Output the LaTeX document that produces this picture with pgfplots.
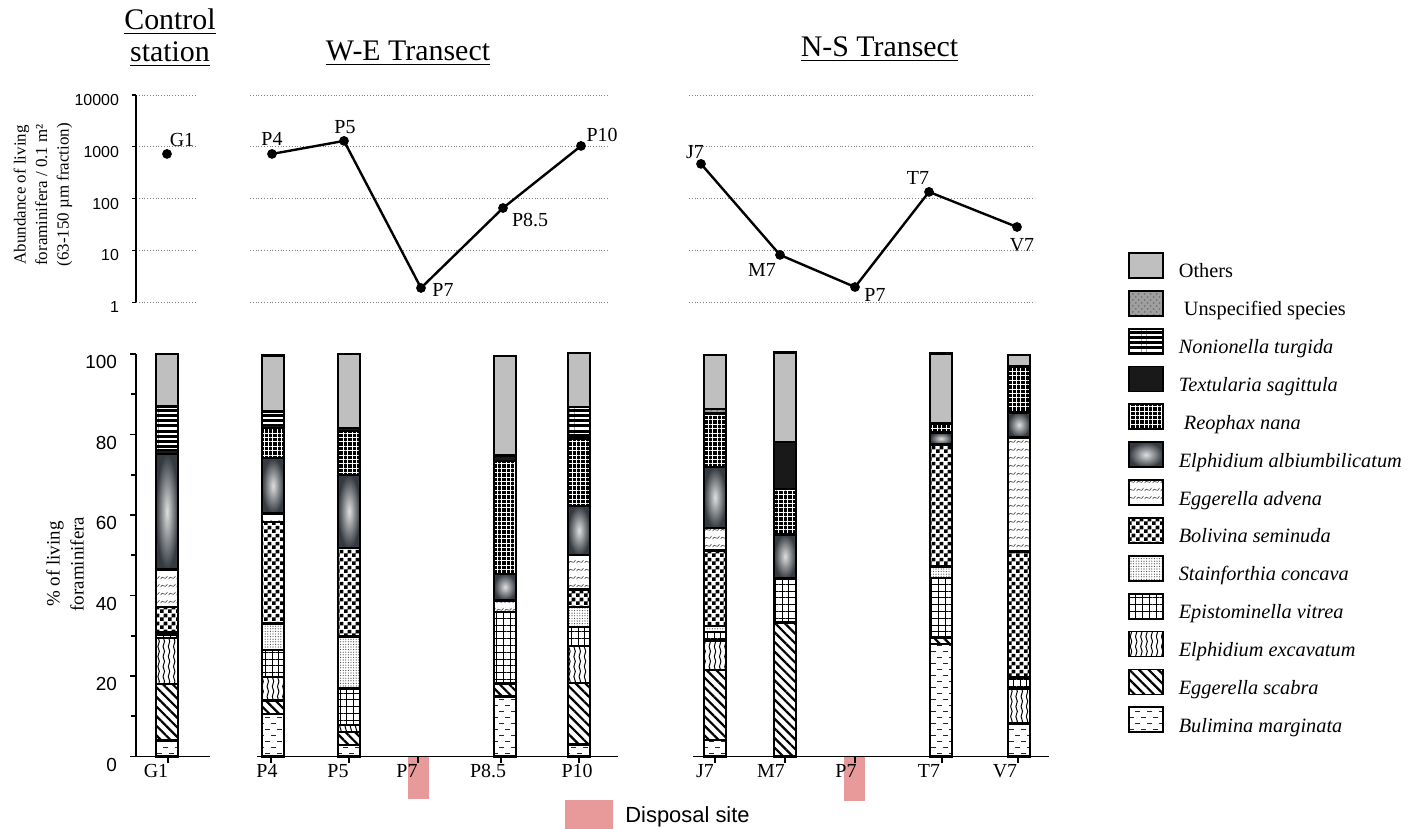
\documentclass[border=0pt]{standalone}
\usepackage{fontspec}
\setmainfont{Liberation Serif}
\newfontfamily\arial{Liberation Sans}
\usepackage{pgfplots}
\pgfplotsset{compat=1.18}
\usepackage{pgfplotstable}
\usetikzlibrary{patterns,patterns.meta}
\definecolor{pinkc}{RGB}{232,153,154}
\definecolor{albdark}{RGB}{52,58,64}

\pgfdeclarepatternformonly{smallcheck}{\pgfpointorigin}{\pgfpoint{4bp}{4bp}}{\pgfpoint{4bp}{4bp}}{%
  \pgfpathrectangle{\pgfpointorigin}{\pgfpoint{2bp}{2bp}}%
  \pgfpathrectangle{\pgfpoint{2bp}{2bp}}{\pgfpoint{2bp}{2bp}}%
  \pgfusepath{fill}}
\pgfdeclarepatternformonly{bulpat}{\pgfpoint{-0.5bp}{-0.5bp}}{\pgfpoint{6.5bp}{6.5bp}}{\pgfpoint{6bp}{6bp}}{%
  \pgfsetlinewidth{0.5bp}%
  \pgfpathmoveto{\pgfpoint{0.5bp}{1.5bp}}\pgfpathlineto{\pgfpoint{3bp}{1.5bp}}%
  \pgfpathmoveto{\pgfpoint{3.5bp}{4.5bp}}\pgfpathlineto{\pgfpoint{6bp}{4.5bp}}%
  \pgfusepath{stroke}}
\pgfdeclarepatternformonly{wavy}{\pgfpoint{-0.5bp}{0bp}}{\pgfpoint{3bp}{5bp}}{\pgfpoint{2.6bp}{5bp}}{%
  \pgfsetlinewidth{0.5bp}%
  \pgfpathmoveto{\pgfpoint{1.3bp}{0bp}}%
  \pgfpathcurveto{\pgfpoint{0bp}{1.5bp}}{\pgfpoint{2.6bp}{3.5bp}}{\pgfpoint{1.3bp}{5bp}}%
  \pgfusepath{stroke}}
\pgfdeclarepatternformonly{scribble}{\pgfpoint{-0.5bp}{-0.5bp}}{\pgfpoint{4.5bp}{4.5bp}}{\pgfpoint{4bp}{4bp}}{%
  \pgfsetlinewidth{0.35bp}%
  \pgfpathmoveto{\pgfpoint{0.3bp}{1bp}}%
  \pgfpathcurveto{\pgfpoint{1.2bp}{3.5bp}}{\pgfpoint{2.5bp}{-0.5bp}}{\pgfpoint{3.7bp}{2.5bp}}%
  \pgfusepath{stroke}}

\tikzset{
  sBul/.style={preaction={fill=white}, pattern=bulpat, pattern color=black!85},
  sEsc/.style={preaction={fill=white}, pattern={Lines[angle=-45,distance=3.4bp,line width=1.1bp]}, pattern color=black},
  sEexc/.style={preaction={fill=white}, pattern=wavy, pattern color=black},
  sEpi/.style={preaction={fill=white}, pattern={Hatch[angle=0,distance=3.4bp,line width=0.4bp]}, pattern color=black},
  sSta/.style={preaction={fill=white}, pattern={Dots[distance=1.3bp,radius=0.28bp]}, pattern color=black!75},
  sBol/.style={preaction={fill=white}, pattern=smallcheck, pattern color=black},
  sEadv/.style={preaction={fill=white}, pattern=scribble, pattern color=black!65},
  sEalb/.style={inner color=gray!25, outer color=albdark},
  sReo/.style={preaction={fill=black}, pattern={Hatch[angle=0,distance=2.2bp,line width=0.45bp]}, pattern color=white},
  sTex/.style={fill=black!90},
  sNon/.style={preaction={fill=black}, pattern={Lines[angle=0,distance=2.6bp,line width=1.1bp]}, pattern color=white},
  sUns/.style={preaction={fill=gray!75}, pattern=crosshatch dots, pattern color=black!55},
  sOth/.style={fill=gray!50},
}

% percentage composition of each station (stacked from bottom)
\pgfplotstableread{
x bul esc eexc epi sta bol eadv ealb reo tex non uns oth
167 4.0 14.0 11.5 0.8 0.7 6.2 9.3 28.6 0 1.0 10.9 0 13.0
}\tblG
\pgfplotstableread{
x bul esc eexc epi sta bol eadv ealb reo tex non uns oth
273 10.6 3.3 5.8 6.8 6.5 25.3 2.1 13.7 7.5 0.8 3.3 0 13.9
}\tblPfour
\pgfplotstableread{
x bul esc eexc epi sta bol eadv ealb reo tex non uns oth
349 2.9 3.2 1.7 9.1 12.9 22.0 0 18.2 10.8 0.8 0 0 18.4
}\tblPfive
\pgfplotstableread{
x bul esc eexc epi sta bol eadv ealb reo tex non uns oth
505 14.9 3.2 0 17.8 0 0 2.9 6.6 28.0 1.4 0 0 24.7
}\tblPeight
\pgfplotstableread{
x bul esc eexc epi sta bol eadv ealb reo tex non uns oth
579 3.0 15.3 9.1 4.8 5.0 4.3 8.5 12.3 16.7 0.8 7.1 0 13.4
}\tblPten
\pgfplotstableread{
x bul esc eexc epi sta bol eadv ealb reo tex non uns oth
715 4.1 17.4 7.3 2.1 1.5 18.8 5.6 15.1 13.3 0 0 1.1 13.5
}\tblJ
\pgfplotstableread{
x bul esc eexc epi sta bol eadv ealb reo tex non uns oth
785 0 33.3 0 10.9 0 0 0 11.0 11.2 11.8 0 0 22.2
}\tblM
\pgfplotstableread{
x bul esc eexc epi sta bol eadv ealb reo tex non uns oth
941 27.9 1.7 0 14.7 2.9 30.3 0 3.0 2.2 0 0 0 17.4
}\tblT
\pgfplotstableread{
x bul esc eexc epi sta bol eadv ealb reo tex non uns oth
1019 8.2 0 8.7 2.7 0 31.3 28.4 6.2 11.4 0 0 0 2.9
}\tblV

% abundance (log scale)
\pgfplotstableread{
x y dx dy lab
167 729 7.5 7 G1
}\topG
\pgfplotstableread{
x y dx dy lab
272 729 0 7.5 P4
344 1300 0.5 7 P5
421 1.89 11 -1 P7
503 66 13.5 -6 P8.5
581 1040 10.5 5.25 P10
}\topWE
\pgfplotstableread{
x y dx dy lab
701 468 -3 6 J7
780 8.2 -9 -7.5 M7
855 1.97 10 -4 P7
929 135 -5.5 6.75 T7
1017 28.4 2.5 -9 V7
}\topNS

\newcommand{\stackbars}[1]{%
  \addplot[sBul] table[x=x,y=bul]{#1};
  \addplot[sEsc] table[x=x,y=esc]{#1};
  \addplot[sEexc] table[x=x,y=eexc]{#1};
  \addplot[sEpi] table[x=x,y=epi]{#1};
  \addplot[sSta] table[x=x,y=sta]{#1};
  \addplot[sBol] table[x=x,y=bol]{#1};
  \addplot[sEadv] table[x=x,y=eadv]{#1};
  \addplot[sEalb] table[x=x,y=ealb]{#1};
  \addplot[sReo] table[x=x,y=reo]{#1};
  \addplot[sTex] table[x=x,y=tex]{#1};
  \addplot[sNon] table[x=x,y=non]{#1};
  \addplot[sUns] table[x=x,y=uns]{#1};
  \addplot[sOth] table[x=x,y=oth]{#1};
}

% one bar per axis (so that each shaded segment is shaded on its own)
\newcommand{\barWE}[1]{%
  \begin{axis}[at={(128.5bp,36.25bp)}, anchor=south west, scale only axis, width=180.5bp, height=201.25bp,
    xmin=257, xmax=618, ymin=0, ymax=100, clip=false, hide axis,
    ybar stacked, bar width=11bp, every axis plot/.append style={draw=black, line width=1.2bp}]
  \stackbars{#1}
  \end{axis}}
\newcommand{\barNS}[1]{%
  \begin{axis}[at={(346.5bp,36.25bp)}, anchor=south west, scale only axis, width=178bp, height=201.25bp,
    xmin=693, xmax=1049, ymin=0, ymax=100, clip=false, hide axis,
    ybar stacked, bar width=11bp, every axis plot/.append style={draw=black, line width=1.2bp}]
  \stackbars{#1}
  \end{axis}}

\newcommand{\lineplot}[1]{%
  \addplot[black, line width=1.2bp, mark=*, mark size=1.8bp, nodes near coords, point meta=explicit symbolic,
    visualization depends on={\thisrow{dx}\as\myDX},
    visualization depends on={\thisrow{dy}\as\myDY},
    every node near coord/.append style={anchor=center, xshift=\myDX bp, yshift=\myDY bp, font=\fontsize{10}{12}\selectfont, black, inner sep=0pt}]
    table[x=x, y=y, meta=lab]{#1};
}

% tick label shifted left of its tick: \tl{2*shift}{text}
\newcommand{\tl}[2]{\makebox[0pt]{\hspace*{#1}#2}}

\begin{document}
\begin{tikzpicture}
\useasboundingbox (0,0) rectangle (710.5bp,414.5bp);

% disposal site markers
\begin{axis}[at={(0bp,36.25bp)}, anchor=south west, scale only axis, width=710.5bp, height=201.25bp,
  xmin=0, xmax=1421, ymin=0, ymax=100, hide axis, clip=false]
\addplot[fill=pinkc, draw=none] coordinates {(408,0) (429,0) (429,-10.6) (408,-10.6)};
\addplot[fill=pinkc, draw=none] coordinates {(844,0) (865,0) (865,-11) (844,-11)};
\addplot[fill=pinkc, draw=none] coordinates {(565,-10.8) (613,-10.8) (613,-18.1) (565,-18.1)};
\node[anchor=base west, font=\arial\fontsize{11}{13}\selectfont, inner sep=0pt] at (axis cs:625,-16.3) {Disposal site};
\end{axis}

% ---------- top: abundance ----------
\begin{axis}[ymode=log, at={(68bp,263.35bp)}, anchor=south west, scale only axis, width=30.5bp, height=103.65bp,
  xmin=136, xmax=197, ymin=1, ymax=10000, clip=false,
  axis x line=none, axis y line*=left, axis line style={line width=0.65bp, black},
  xtick=\empty, ytick={1,10,100,1000,10000}, yticklabels={1,10,100,1000,10000}, yminorticks=false,
  ymajorgrids, grid style={densely dotted, gray, line width=0.4bp},
  tick align=outside, major tick length=2bp, ytick style={line width=0.6bp, black},
  yticklabel style={font=\arial\fontsize{8}{9}\selectfont, xshift=-3bp, yshift=-2.5bp},
  ylabel={Abundance of living\\foraminifera / 0.1 m²\\(63-150 µm fraction)},
  ylabel style={align=center, font=\fontsize{8.5}{10.8}\selectfont, at={(axis description cs:-1.525,0.518)}, anchor=center}]
\lineplot{\topG}
\end{axis}

\begin{axis}[ymode=log, at={(125bp,263.35bp)}, anchor=south west, scale only axis, width=179bp, height=103.65bp,
  xmin=250, xmax=608, ymin=1, ymax=10000, clip=false,
  axis line style={draw=none}, xtick=\empty, ytick={1,10,100,1000,10000}, yticklabels={}, yminorticks=false,
  ytick style={draw=none}, ymajorgrids, grid style={densely dotted, gray, line width=0.4bp}]
\lineplot{\topWE}
\end{axis}

\begin{axis}[ymode=log, at={(344.5bp,263.35bp)}, anchor=south west, scale only axis, width=172bp, height=103.65bp,
  xmin=689, xmax=1033, ymin=1, ymax=10000, clip=false,
  axis line style={draw=none}, xtick=\empty, ytick={1,10,100,1000,10000}, yticklabels={}, yminorticks=false,
  ytick style={draw=none}, ymajorgrids, grid style={densely dotted, gray, line width=0.4bp}]
\lineplot{\topNS}
\end{axis}

% ---------- bottom: composition ----------
\begin{axis}[at={(68bp,36.25bp)}, anchor=south west, scale only axis, width=37bp, height=201.25bp,
  xmin=136, xmax=210, ymin=0, ymax=100, clip=false,
  ybar stacked, bar width=11bp,
  every axis plot/.append style={draw=black, line width=1.2bp},
  axis x line*=bottom, axis y line*=left, axis line style={line width=0.9bp, black},
  tick align=outside, major tick length=3bp, minor tick length=2.5bp,
  ytick={0,20,...,100}, yticklabels={0,20,40,60,80,100}, minor ytick={10,30,50,70,90},
  ytick style={line width=0.8bp, black},
  yticklabel style={font=\arial\fontsize{9.5}{11}\selectfont, xshift=-3bp, yshift=-4bp},
  xtick={168}, xticklabels={\tl{-12bp}{G1}},
  xticklabel style={font=\fontsize{10}{12}\selectfont, yshift=2.5bp},
  xtick style={line width=1.3bp, black},
  ylabel={\% of living\\foraminifera},
  ylabel style={align=center, font=\fontsize{9.5}{12}\selectfont, at={(axis description cs:-0.959,0.478)}, anchor=center}]
\stackbars{\tblG}
\end{axis}

\begin{axis}[at={(128.5bp,36.25bp)}, anchor=south west, scale only axis, width=180.5bp, height=201.25bp,
  xmin=257, xmax=618, ymin=0, ymax=100, clip=false,
  axis x line*=bottom, axis y line=none, ytick=\empty, axis line style={line width=0.9bp, black},
  tick align=outside, major tick length=3bp,
  xtick={271,349,418,501,579},
  xticklabels={\tl{-4bp}{P4},\tl{-11bp}{P5},\tl{-11bp}{P7},\tl{-13bp}{P8.5},\tl{-2bp}{P10}},
  xticklabel style={font=\fontsize{10}{12}\selectfont, yshift=2.5bp},
  xtick style={line width=1.3bp, black}]
\addplot[draw=none] coordinates {(271,0)};
\end{axis}
\barWE{\tblPfour}
\barWE{\tblPfive}
\barWE{\tblPeight}
\barWE{\tblPten}

\begin{axis}[at={(346.5bp,36.25bp)}, anchor=south west, scale only axis, width=178bp, height=201.25bp,
  xmin=693, xmax=1049, ymin=0, ymax=100, clip=false,
  axis x line*=bottom, axis y line=none, ytick=\empty, axis line style={line width=0.9bp, black},
  tick align=outside, major tick length=3bp,
  xtick={715,785,855,942,1018},
  xticklabels={\tl{-10bp}{J7},\tl{-14bp}{M7},\tl{-9bp}{P7},\tl{-13bp}{T7},\tl{-13bp}{V7}},
  xticklabel style={font=\fontsize{10}{12}\selectfont, yshift=2.5bp},
  xtick style={line width=1.3bp, black}]
\addplot[draw=none] coordinates {(715,0)};
\end{axis}
\barNS{\tblJ}
\barNS{\tblM}
\barNS{\tblT}
\barNS{\tblV}

% ---------- legend ----------
\begin{axis}[at={(0bp,0bp)}, anchor=south west, scale only axis, width=710.5bp, height=414.5bp,
  xmin=0, xmax=1, ymin=0, ymax=1, hide axis,
  legend style={at={(0.79381,0.69602)}, anchor=north west, draw=none, fill=none, inner sep=0pt, outer sep=0pt,
    row sep=4.5bp, font=\fontsize{10.2}{12}\selectfont, nodes={inner sep=0pt},
    /tikz/every odd column/.append style={column sep=7.5bp}},
  legend cell align=left,
  legend image code/.code={\draw[#1, draw=black, line width=0.9bp] (0bp,-2.8bp) rectangle (17bp,9.7bp);}]
\addlegendimage{sOth}\addlegendentry{Others}
\addlegendimage{sUns}\addlegendentry{\ Unspecified species}
\addlegendimage{sNon}\addlegendentry{\textit{Nonionella turgida}}
\addlegendimage{sTex}\addlegendentry{\textit{Textularia sagittula}}
\addlegendimage{sReo}\addlegendentry{\ \textit{Reophax nana}}
\addlegendimage{sEalb}\addlegendentry{\textit{Elphidium albiumbilicatum}}
\addlegendimage{sEadv}\addlegendentry{\textit{Eggerella advena}}
\addlegendimage{sBol}\addlegendentry{\textit{Bolivina seminuda}}
\addlegendimage{sSta}\addlegendentry{\textit{Stainforthia concava}}
\addlegendimage{sEpi}\addlegendentry{\textit{Epistominella vitrea}}
\addlegendimage{sEexc}\addlegendentry{\textit{Elphidium excavatum}}
\addlegendimage{sEsc}\addlegendentry{\textit{Eggerella scabra}}
\addlegendimage{sBul}\addlegendentry{\textit{Bulimina marginata}}
\end{axis}

% ---------- titles ----------
\node[anchor=base, font=\fontsize{15}{18}\selectfont, inner sep=0pt] at (85bp,399.5bp) {\underline{Control}};
\node[anchor=base, font=\fontsize{15}{18}\selectfont, inner sep=0pt] at (85bp,383.5bp) {\underline{station}};
\node[anchor=base, font=\fontsize{15}{18}\selectfont, inner sep=0pt] at (204bp,384bp) {\underline{W-E Transect}};
\node[anchor=base, font=\fontsize{15}{18}\selectfont, inner sep=0pt] at (439.75bp,386bp) {\underline{N-S Transect}};
\end{tikzpicture}
\end{document}
